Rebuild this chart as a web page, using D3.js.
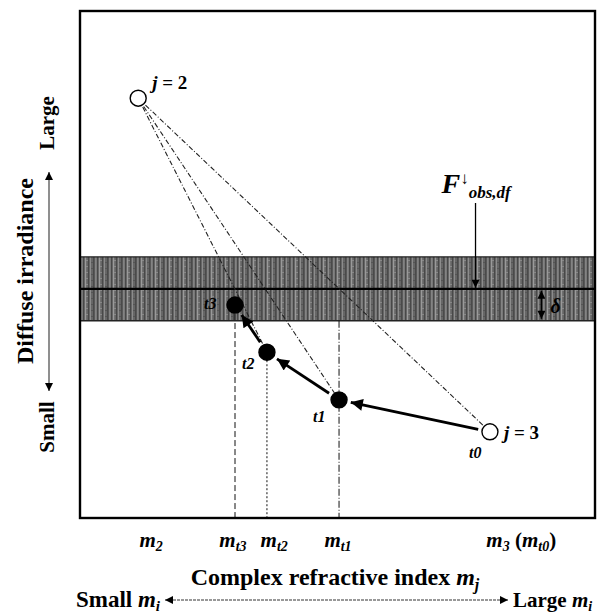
<!DOCTYPE html>
<html>
<head>
<meta charset="utf-8">
<script src="https://cdn.jsdelivr.net/npm/d3@7"></script>
<style>
  body { margin: 0; background: #fff; }
  text { font-family: "Liberation Serif", "Times New Roman", serif; font-weight: bold; }
</style>
</head>
<body>
<svg id="canvas"></svg>
<script>
// schematic values (arbitrary units 0..10 on both axes)
let pointNames = ["j2", "t0", "t1", "t2", "t3"];
let pointX = [1.13, 7.96, 5.03, 3.63, 3.01];
let pointY = [8.28, 1.70, 2.33, 3.27, 4.20];
let pointOpen = [true, true, false, false, false];

let obsValue = 4.52;
let bandLow = 3.89;
let bandHigh = 5.15;

// iteration steps: from index -> to index
let stepFrom = [1, 2, 3];
let stepTo = [2, 3, 4];

// guide lines from j=2 to these points
let guideTargets = [3, 2, 1];

let tickLabels = ["m2", "mt3", "mt2", "mt1", "m3"];
let tickValues = [1.38, 2.97, 3.77, 5.01, 7.89];

let width = 597, height = 615;
let canvas = d3.select("#canvas").attr("width", width).attr("height", height);

let x = d3.scaleLinear().domain([0, 10]).range([80, 595]);
let y = d3.scaleLinear().domain([0, 10]).range([518, 11]);

let defs = canvas.append("defs");
let pat = defs.append("pattern").attr("id", "stripes")
  .attr("patternUnits", "userSpaceOnUse").attr("width", 14).attr("height", 6);
pat.append("rect").attr("width", 14).attr("height", 6).attr("fill", "#666");
[[1, 1.2, "#9a9a9a"], [4, 0.8, "#404040"], [6, 1, "#8c8c8c"], [9, 1.5, "#4a4a4a"], [11.5, 0.8, "#a0a0a0"], [13, 0.7, "#3a3a3a"]]
  .forEach((s) => {
    pat.append("rect").attr("x", s[0]).attr("width", s[1]).attr("height", 6).attr("fill", s[2]);
  });
pat.append("rect").attr("x", 2).attr("y", 2).attr("width", 2).attr("height", 1).attr("fill", "#888");
pat.append("rect").attr("x", 7).attr("y", 4).attr("width", 2).attr("height", 1).attr("fill", "#555");

let mkArrow = (id, w, h) => {
  defs.append("marker").attr("id", id)
    .attr("viewBox", "0 0 10 10").attr("refX", 10).attr("refY", 5)
    .attr("markerUnits", "userSpaceOnUse")
    .attr("markerWidth", w).attr("markerHeight", h).attr("orient", "auto-start-reverse")
    .append("path").attr("d", "M0,0 L10,5 L0,10 Z").attr("fill", "#000");
};
mkArrow("bigHead", 15, 12);
mkArrow("smallHead", 9, 8);

// shaded band
canvas.append("rect")
  .attr("x", x(0)).attr("width", x(10) - x(0))
  .attr("y", y(bandHigh)).attr("height", y(bandLow) - y(bandHigh))
  .attr("fill", "url(#stripes)");
canvas.append("line").attr("x1", x(0)).attr("x2", x(10))
  .attr("y1", y(bandHigh)).attr("y2", y(bandHigh)).attr("stroke", "#222").attr("stroke-width", 1.2);
canvas.append("line").attr("x1", x(0)).attr("x2", x(10))
  .attr("y1", y(bandLow)).attr("y2", y(bandLow)).attr("stroke", "#222").attr("stroke-width", 1.4);
canvas.append("line").attr("x1", x(0)).attr("x2", x(10))
  .attr("y1", y(obsValue)).attr("y2", y(obsValue)).attr("stroke", "#000").attr("stroke-width", 2.2);

// vertical guide lines down to the axis
let vDash = ["", "", "7,2,1,2", "2,2", "6,3"];
[2, 3, 4].forEach((i) => {
  canvas.append("line")
    .attr("x1", x(pointX[i])).attr("x2", x(pointX[i]))
    .attr("y1", i == 2 ? y(bandLow) : y(pointY[i])).attr("y2", y(0))
    .attr("stroke", "#111").attr("stroke-width", 1)
    .attr("stroke-dasharray", vDash[i]);
});

// diagonal guide lines from j = 2
guideTargets.forEach((t) => {
  canvas.append("line")
    .attr("x1", x(pointX[0])).attr("y1", y(pointY[0]))
    .attr("x2", x(pointX[t])).attr("y2", y(pointY[t]))
    .attr("stroke", "#222").attr("stroke-width", 1.1)
    .attr("stroke-dasharray", "5,2,1,2");
});

// frame
canvas.append("rect").attr("x", x(0)).attr("y", y(10))
  .attr("width", x(10) - x(0)).attr("height", y(0) - y(10))
  .attr("fill", "none").attr("stroke", "#000").attr("stroke-width", 2.4);

// iteration arrows
let shrink = (ax, ay, bx, by, s0, s1) => {
  let dx = bx - ax, dy = by - ay, len = Math.sqrt(dx * dx + dy * dy);
  return [ax + dx * s0 / len, ay + dy * s0 / len, bx - dx * s1 / len, by - dy * s1 / len];
};
stepFrom.forEach((f, k) => {
  let t = stepTo[k];
  let c = shrink(x(pointX[f]), y(pointY[f]), x(pointX[t]), y(pointY[t]), 12, 12);
  canvas.append("line")
    .attr("x1", c[0]).attr("y1", c[1]).attr("x2", c[2]).attr("y2", c[3])
    .attr("stroke", "#000").attr("stroke-width", 2.8)
    .attr("marker-end", "url(#bigHead)");
});

// points
canvas.selectAll("circle.pt")
  .data(pointNames)
  .enter()
  .append("circle")
  .attr("class", "pt")
  .attr("cx", (d, i) => x(pointX[i]))
  .attr("cy", (d, i) => y(pointY[i]))
  .attr("r", 8)
  .attr("fill", (d, i) => (pointOpen[i] ? "#fff" : "#000"))
  .attr("stroke", "#000")
  .attr("stroke-width", 1.4);

// point labels
let lab = (tx, ty, parts, size) => {
  let t = canvas.append("text").attr("x", tx).attr("y", ty).attr("font-size", size);
  parts.forEach((p) => {
    let s = t.append("tspan").text(p[0]);
    if (p[1]) s.attr("font-style", "italic");
    if (p[2]) s.attr("font-size", p[2]);
    if (p[3]) s.attr("dy", p[3]);
  });
  return t;
};
lab(x(pointX[0]) + 14, y(pointY[0]) - 9, [["j", 1], [" = 2", 0]], 19);
lab(x(pointX[1]) + 14, y(pointY[1]) + 7, [["j", 1], [" = 3", 0]], 19);
lab(x(pointX[1]) - 21, y(pointY[1]) + 26, [["t0", 1]], 16);
lab(x(pointX[2]) - 26, y(pointY[2]) + 22, [["t1", 1]], 16);
lab(x(pointX[3]) - 25, y(pointY[3]) + 17, [["t2", 1]], 16);
lab(x(pointX[4]) - 31, y(pointY[4]) + 4, [["t3", 1]], 16);

// observed flux marker
let fx = x(7.68);
canvas.append("line").attr("x1", fx).attr("x2", fx)
  .attr("y1", 203).attr("y2", y(obsValue) - 1)
  .attr("stroke", "#000").attr("stroke-width", 1.3)
  .attr("marker-end", "url(#smallHead)");
lab(fx - 34, 193, [["F", 1, 28], ["\u2193", 0, 17, -9], ["obs,df", 1, 17, 14]], 28);

// delta double arrow
let dxp = x(8.96);
canvas.append("line").attr("x1", dxp).attr("x2", dxp)
  .attr("y1", y(obsValue) + 2).attr("y2", y(bandLow) - 2)
  .attr("stroke", "#000").attr("stroke-width", 1.6)
  .attr("marker-start", "url(#smallHead)").attr("marker-end", "url(#smallHead)");
lab(dxp + 9, y(bandLow) - 8, [["\u03b4", 1]], 20);

// x tick labels
tickLabels.forEach((tl, i) => {
  let base = tl[0], sub = tl.slice(1);
  let t = canvas.append("text")
    .attr("x", x(tickValues[i])).attr("y", 547)
    .attr("font-size", 21).attr("font-style", "italic")
    .attr("text-anchor", i == 4 ? "start" : "middle");
  t.append("tspan").text(base);
  t.append("tspan").text(sub).attr("font-size", 14).attr("dy", 4);
  if (i == 4) {
    t.append("tspan").text(" (").attr("font-style", "normal").attr("font-size", 21).attr("dy", -4);
    t.append("tspan").text("m").attr("font-size", 21);
    t.append("tspan").text("t0").attr("font-size", 14).attr("dy", 4);
    t.append("tspan").text(")").attr("font-style", "normal").attr("font-size", 21).attr("dy", -4);
  }
});

// x axis title
let xt = canvas.append("text").attr("x", 335).attr("y", 585)
  .attr("text-anchor", "middle").attr("font-size", 24);
xt.append("tspan").text("Complex refractive index ");
xt.append("tspan").text("m").attr("font-style", "italic");
xt.append("tspan").text("j").attr("font-style", "italic").attr("font-size", 16).attr("dy", 5);

// bottom small/large arrow
canvas.append("line").attr("x1", 165).attr("x2", 508)
  .attr("y1", 600).attr("y2", 600)
  .attr("stroke", "#333").attr("stroke-width", 1.1).attr("stroke-dasharray", "3,1")
  .attr("marker-start", "url(#smallHead)").attr("marker-end", "url(#smallHead)");
let sm = canvas.append("text").attr("x", 160).attr("y", 607).attr("text-anchor", "end").attr("font-size", 23);
sm.append("tspan").text("Small ");
sm.append("tspan").text("m").attr("font-style", "italic");
sm.append("tspan").text("i").attr("font-style", "italic").attr("font-size", 15).attr("dy", 4);
let lg = canvas.append("text").attr("x", 513).attr("y", 607).attr("font-size", 21);
lg.append("tspan").text("Large ");
lg.append("tspan").text("m").attr("font-style", "italic");
lg.append("tspan").text("i").attr("font-style", "italic").attr("font-size", 14).attr("dy", 4);

// y axis title and small/large arrow
canvas.append("text").attr("transform", "translate(33,271) rotate(-90)")
  .attr("text-anchor", "middle").attr("font-size", 24).text("Diffuse irradiance");
canvas.append("line").attr("x1", 49).attr("x2", 49)
  .attr("y1", 172).attr("y2", 391)
  .attr("stroke", "#333").attr("stroke-width", 1.1)
  .attr("marker-start", "url(#smallHead)").attr("marker-end", "url(#smallHead)");
canvas.append("text").attr("transform", "translate(54,123) rotate(-90)")
  .attr("text-anchor", "middle").attr("font-size", 21).text("Large");
canvas.append("text").attr("transform", "translate(54,427) rotate(-90)")
  .attr("text-anchor", "middle").attr("font-size", 21).text("Small");
</script>
</body>
</html>
